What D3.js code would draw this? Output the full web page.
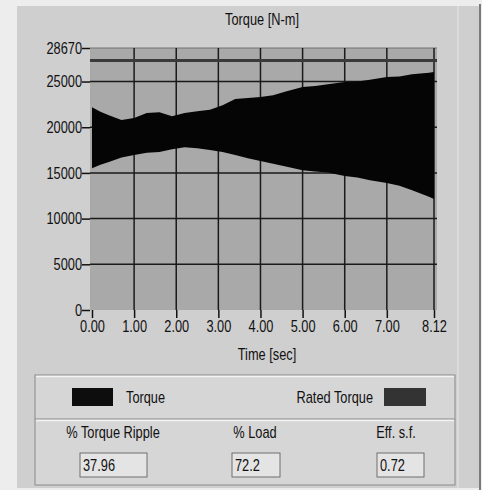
<!DOCTYPE html>
<html>
<head>
<meta charset="utf-8">
<script src="https://cdn.jsdelivr.net/npm/d3@7"></script>
<style>
  html, body { margin: 0; padding: 0; background: #ededed; }
  svg { display: block; }
  text { font-family: "Liberation Sans", Arial, sans-serif; font-size: 16px; fill: #111; }
</style>
</head>
<body>
<svg id="chart" width="482" height="490"></svg>
<script>
// ---- data ----
const chartTitle = "Torque [N-m]";
const xTitle = "Time [sec]";
const timeTicks = [0, 1, 2, 3, 4, 5, 6, 7, 8.12];
const torqueTicks = [0, 5000, 10000, 15000, 20000, 25000, 28670];
const timeSec = [0, 0.2, 0.4, 0.7, 1.0, 1.3, 1.6, 1.9, 2.2, 2.5, 2.8, 3.1, 3.4, 3.7, 4.0, 4.3, 4.6, 5.0, 5.3, 5.6, 6.0, 6.3, 6.6, 7.0, 7.3, 7.6, 8.0, 8.12];
const torqueUpper = [22200, 21700, 21300, 20800, 21000, 21550, 21650, 21200, 21550, 21750, 21900, 22400, 23100, 23200, 23300, 23500, 23900, 24400, 24500, 24700, 24950, 25000, 25200, 25500, 25550, 25800, 25950, 26050];
const torqueLower = [15500, 15900, 16200, 16700, 16950, 17200, 17300, 17600, 17800, 17700, 17500, 17300, 16950, 16600, 16300, 16000, 15700, 15300, 15150, 15050, 14650, 14500, 14200, 13900, 13600, 13100, 12400, 12150];
const ratedTorque = 27300;
const legendLabels = ["Torque", "Rated Torque"];
const statLabels = ["% Torque Ripple", "% Load", "Eff. s.f."];
const statValues = ["37.96", "72.2", "0.72"];

// ---- layout ----
const NARROW = 0.8;
const svg = d3.select("#chart");
const plot = { left: 92, right: 434, top: 48, bottom: 310 };

const x = d3.scaleLinear().domain([0, 8.12]).range([plot.left, plot.right]);
const y = d3.scaleLinear().domain([0, 28670]).range([plot.bottom, plot.top]);

function label(px, py, str, anchor) {
  return svg.append("g").attr("transform", `translate(${px},${py}) scale(${NARROW},1)`)
    .append("text").attr("text-anchor", anchor || "start").text(str);
}

// outer panel
svg.append("rect").attr("x", 17).attr("y", 6).attr("width", 462).attr("height", 482)
  .attr("fill", "#cfcfcf");
svg.append("line").attr("x1", 480).attr("x2", 480).attr("y1", 4).attr("y2", 490)
  .attr("stroke", "#555").attr("stroke-width", 1.5);
svg.append("line").attr("x1", 458).attr("x2", 458).attr("y1", 6).attr("y2", 488)
  .attr("stroke", "#e6e6e6").attr("stroke-width", 1);

// plot background
svg.append("rect").attr("x", plot.left - 2).attr("y", plot.top)
  .attr("width", plot.right - plot.left + 5).attr("height", plot.bottom - plot.top)
  .attr("fill", "#a9a9a9");

// grid
const g = svg.append("g");
g.selectAll(".hgrid").data(torqueTicks.filter(d => d > 0 && d < 28670)).join("line")
  .attr("x1", plot.left - 2).attr("x2", plot.right + 3)
  .attr("y1", d => y(d)).attr("y2", d => y(d))
  .attr("stroke", "#1a1a1a").attr("stroke-width", 1.5);
g.append("line").attr("x1", plot.left - 2).attr("x2", plot.right + 3)
  .attr("y1", y(28670)).attr("y2", y(28670)).attr("stroke", "#707070").attr("stroke-width", 1);
g.selectAll(".vgrid").data(timeTicks.filter(d => d > 0)).join("line")
  .attr("x1", d => x(d)).attr("x2", d => x(d))
  .attr("y1", plot.top).attr("y2", plot.bottom)
  .attr("stroke", "#1a1a1a").attr("stroke-width", 1.5);

// rated torque line
svg.append("line").attr("x1", plot.left - 2).attr("x2", plot.right + 3)
  .attr("y1", y(ratedTorque)).attr("y2", y(ratedTorque))
  .attr("stroke", "#3a3a3a").attr("stroke-width", 3);

// torque band
const bandData = timeSec.map((t, i) => ({ t, hi: torqueUpper[i], lo: torqueLower[i] }));
const area = d3.area().x(d => x(d.t)).y0(d => y(d.lo)).y1(d => y(d.hi));
svg.append("path").datum(bandData).attr("d", area).attr("fill", "#050505");

// axes
const yAxis = d3.axisLeft(y).tickValues(torqueTicks).tickSize(8).tickPadding(2)
  .tickFormat(d3.format("d"));
const ya = svg.append("g").attr("transform", `translate(${plot.left - 2},0)`).call(yAxis);
ya.select(".domain").remove();
ya.selectAll(".tick line").attr("stroke", "#111").attr("stroke-width", 1.5);
ya.selectAll(".tick text").attr("font-size", 16).attr("fill", "#111")
  .style("font-family", "'Liberation Sans',Arial,sans-serif")
  .attr("transform", `scale(${NARROW},1)`);

const xAxis = d3.axisBottom(x).tickValues(timeTicks).tickSize(8).tickPadding(3)
  .tickFormat(d3.format(".2f"));
const xa = svg.append("g").attr("transform", `translate(0,${plot.bottom})`).call(xAxis);
xa.select(".domain").remove();
xa.selectAll(".tick line").attr("stroke", "#111").attr("stroke-width", 1.5);
xa.selectAll(".tick text").attr("font-size", 16).attr("fill", "#111")
  .style("font-family", "'Liberation Sans',Arial,sans-serif")
  .attr("transform", `scale(${NARROW},1)`);

// titles
label(262, 25, chartTitle, "middle");
label(267, 360, xTitle, "middle");

// legend / stats box
const box = { x: 35, y: 375, w: 420, h: 110, sep: 419 };
svg.append("rect").attr("x", box.x).attr("y", box.y).attr("width", box.w).attr("height", box.h)
  .attr("fill", "#d6d6d6").attr("stroke", "#8a8a8a").attr("stroke-width", 1);
svg.append("line").attr("x1", box.x + 1).attr("x2", box.x + box.w - 1)
  .attr("y1", box.y + 1.5).attr("y2", box.y + 1.5).attr("stroke", "#f4f4f4").attr("stroke-width", 1.5);
svg.append("line").attr("x1", box.x).attr("x2", box.x + box.w)
  .attr("y1", box.sep).attr("y2", box.sep).attr("stroke", "#8a8a8a").attr("stroke-width", 1);
svg.append("line").attr("x1", box.x + 1).attr("x2", box.x + box.w - 1)
  .attr("y1", box.sep + 1.5).attr("y2", box.sep + 1.5).attr("stroke", "#f4f4f4").attr("stroke-width", 1.5);

// legend items
const legendItems = [
  { label: legendLabels[0], sw: [72, 388, 41, 18], swFill: "#0d0d0d", tx: 126, anchor: "start" },
  { label: legendLabels[1], sw: [384, 388, 42, 18], swFill: "#333333", tx: 373, anchor: "end" }
];
legendItems.forEach(it => {
  svg.append("rect").attr("x", it.sw[0]).attr("y", it.sw[1]).attr("width", it.sw[2]).attr("height", it.sw[3])
    .attr("fill", it.swFill);
  label(it.tx, 403, it.label, it.anchor);
});

// stats
const statLayout = [
  { cx: 113, bx: 80, bw: 67 },
  { cx: 255, bx: 232, bw: 48 },
  { cx: 396, bx: 377, bw: 47 }
];
statLabels.forEach((lab, i) => {
  const L = statLayout[i];
  label(L.cx, 438, lab, "middle");
  svg.append("rect").attr("x", L.bx).attr("y", 453).attr("width", L.bw).attr("height", 24)
    .attr("fill", "#e4e4e4").attr("stroke", "#6f6f6f").attr("stroke-width", 1);
  label(L.bx + 3, 471, statValues[i], "start");
});
</script>
</body>
</html>
